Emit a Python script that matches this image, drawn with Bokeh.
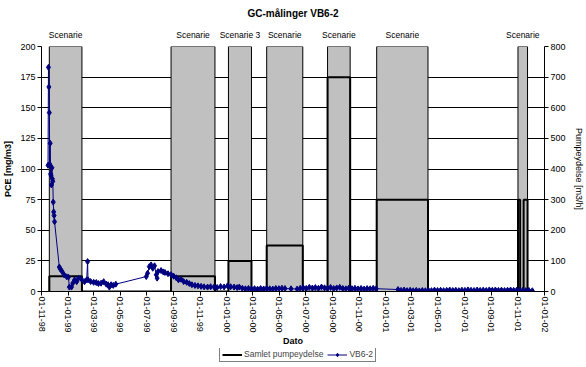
import pandas as pd
from bokeh.plotting import figure
from bokeh.layouts import column
from bokeh.models import (Range1d, LinearAxis, FixedTicker, DatetimeTickFormatter,
                          Legend, LegendItem, ColumnDataSource)
from bokeh.embed import file_html
from bokeh.resources import INLINE

# ---------------- data ----------------
chart_title = "GC-målinger VB6-2"
x_label = "Dato"
y_label = "PCE [mg/m3]"
y2_label = "Pumpeydelse [m3/h]"
legend_labels = ["Samlet pumpeydelse", "VB6-2"]
x_start, x_end = "1998-11-01", "2002-01-01"
tick_dates = ["1998-11-01", "1999-01-01", "1999-03-01", "1999-05-01", "1999-07-01",
              "1999-09-01", "1999-11-01", "2000-01-01", "2000-03-01", "2000-05-01",
              "2000-07-01", "2000-09-01", "2000-11-01", "2001-01-01", "2001-03-01",
              "2001-05-01", "2001-07-01", "2001-09-01", "2001-11-01", "2002-01-01"]
pce_ticks = [0, 25, 50, 75, 100, 125, 150, 175, 200]
pump_ticks = [0, 100, 200, 300, 400, 500, 600, 700, 800]

scen_start = ["1998-11-19", "1999-08-26", "2000-01-05", "2000-04-02",
              "2000-08-20", "2000-12-11", "2001-11-01"]
scen_end = ["1999-02-02", "1999-12-05", "2000-02-27", "2000-06-24",
            "2000-10-11", "2001-04-08", "2001-11-23"]
scen_labels = ["Scenarie", "Scenarie", "Scenarie 3", "Scenarie",
               "Scenarie", "Scenarie", "Scenarie"]

pump_start = ["1998-11-19", "1999-08-26", "2000-01-05", "2000-04-02",
              "2000-08-20", "2000-12-11", "2001-11-01", "2001-11-14"]
pump_end = ["1999-02-02", "1999-12-05", "2000-02-27", "2000-06-24",
            "2000-10-11", "2001-04-08", "2001-11-06", "2001-11-23"]
pump_level = [50, 50, 100, 150, 700, 300, 300, 300]

vb_dates = [
    "1998-11-16", "1998-11-17", "1998-11-18", "1998-11-19", "1998-11-20", "1998-11-21",
    "1998-11-22", "1998-11-23", "1998-11-24", "1998-11-25", "1998-11-26", "1998-11-27",
    "1998-11-28", "1998-11-29", "1998-11-30", "1998-12-01", "1998-12-12", "1998-12-14",
    "1998-12-18", "1998-12-23", "1998-12-29", "1999-01-02", "1999-01-04", "1999-01-09",
    "1999-01-12", "1999-01-16", "1999-01-21", "1999-01-25", "1999-02-01", "1999-02-08",
    "1999-02-13", "1999-02-15", "1999-02-16", "1999-02-22", "1999-03-01", "1999-03-07",
    "1999-03-12", "1999-03-18", "1999-03-24", "1999-03-30", "1999-04-03", "1999-04-06",
    "1999-04-10", "1999-04-15", "1999-04-21",
    "1999-06-30", "1999-07-03", "1999-07-07", "1999-07-11", "1999-07-15", "1999-07-19",
    "1999-07-23", "1999-07-25", "1999-07-27", "1999-08-03", "1999-08-08", "1999-08-12",
    "1999-08-19", "1999-08-26", "1999-09-01", "1999-09-07", "1999-09-12", "1999-09-18",
    "1999-09-24", "1999-10-01", "1999-10-07", "1999-10-13", "1999-10-20", "1999-10-27",
    "1999-11-03", "1999-11-10", "1999-11-18", "1999-11-25", "1999-12-03", "1999-12-10",
    "1999-12-18", "1999-12-26", "2000-01-03", "2000-01-10", "2000-01-18", "2000-01-25",
    "2000-01-30",
    "2000-02-06", "2000-02-13", "2000-02-20", "2000-02-27", "2000-03-05", "2000-03-12",
    "2000-03-19", "2000-03-26", "2000-04-02", "2000-04-09", "2000-04-16", "2000-04-23",
    "2000-04-30", "2000-05-07", "2000-05-14", "2000-05-28", "2000-06-11", "2000-06-18",
    "2000-06-25", "2000-07-02", "2000-07-09", "2000-07-16", "2000-07-23", "2000-07-30",
    "2000-08-06", "2000-08-13", "2000-08-20", "2000-08-27", "2000-09-03", "2000-09-10",
    "2000-09-17", "2000-09-24", "2000-10-01", "2000-10-08", "2000-10-15", "2000-10-22",
    "2000-10-29", "2000-11-05", "2000-11-12", "2000-11-19", "2000-11-26", "2000-12-03",
    "2000-12-10",
    "2001-01-29", "2001-02-05", "2001-02-12", "2001-02-19", "2001-02-26", "2001-03-05",
    "2001-03-12", "2001-03-19", "2001-03-26", "2001-04-02", "2001-04-09", "2001-04-16",
    "2001-04-23", "2001-04-30", "2001-05-07", "2001-05-14", "2001-05-21", "2001-05-28",
    "2001-06-04", "2001-06-11", "2001-06-18", "2001-06-25", "2001-07-02", "2001-07-09",
    "2001-07-16", "2001-07-23", "2001-07-30", "2001-08-06", "2001-08-13", "2001-08-20",
    "2001-08-27", "2001-09-03", "2001-09-10", "2001-09-17", "2001-09-24", "2001-10-01",
    "2001-10-08", "2001-10-15", "2001-10-22", "2001-10-29", "2001-11-05", "2001-11-12",
    "2001-11-19", "2001-11-26", "2001-12-04"]
vb_pce = [
    103, 183, 167, 146, 104, 121,
    96, 95, 87, 101, 92, 90,
    73, 65, 62, 57, 20, 18.5,
    16.5, 13.6, 12, 11.7, 3.6, 3.6,
    6.8, 9.5, 8, 10.9, 10.1, 8,
    9.5, 24.4, 9.5, 8.1, 7.5, 7.3,
    6.5, 6.8, 8, 6, 5.5, 3.6,
    5.5, 5, 6,
    12.2, 14.9, 20.3, 21.7, 19, 21,
    13.6, 10.9, 16.3, 17.1, 16, 15.5,
    14.5, 13.8, 12.5, 11.2, 9.5, 10,
    8.1, 7.5, 6.5, 5.5, 5, 4.6,
    4.2, 3.8, 3.6, 3.9, 3.6, 3.3,
    4, 3.7, 4.6, 3.9, 3.6, 3.2,
    3.6,
    2.6, 2.2, 2.5, 2.0, 2.3, 1.9,
    2.4, 2.1, 2.6, 2.2, 2.0, 2.5,
    2.3, 2.7, 2.4, 2.2, 2.0, 2.6,
    3.0, 2.5, 3.4, 2.8, 3.2, 2.6,
    3.6, 3.0, 2.7, 3.3, 2.4, 2.9,
    3.4, 2.5, 2.2, 2.8, 2.3, 2.6,
    2.1, 2.5, 2.0, 2.4, 2.2, 2.6,
    2.3,
    1.6, 0.9, 1.2, 0.7, 1.0, 0.6,
    0.9, 0.5, 0.8, 0.6, 0.9, 0.7,
    1.1, 0.8, 1.0, 0.7, 0.9, 1.2,
    0.8, 1.0, 0.7, 1.1, 0.9, 1.3,
    1.0, 0.8, 1.2, 0.9, 1.1, 0.8,
    1.3, 1.0, 1.2, 0.9, 1.1, 0.8,
    1.0, 1.2, 0.9, 1.1, 0.8, 1.0,
    0.7, 0.9, 0.6]

# ---------------- figure ----------------
FONT = "Liberation Sans"
NAVY = "#000080"
W, H_MAIN, H_LEG = 586, 348, 19
d = pd.to_datetime


def ms(t):
    return int(d(t).value // 10**6)


p = figure(width=W, height=H_MAIN, x_axis_type="datetime",
           x_range=Range1d(d(x_start), d(x_end)), y_range=Range1d(0, 200),
           output_backend="svg", toolbar_location=None,
           min_border_left=40, min_border_right=41, min_border_top=46, min_border_bottom=0)
p.extra_y_ranges = {"pump": Range1d(0, 800)}
p.outline_line_color = None
p.background_fill_color = "white"
p.border_fill_color = "white"

# title
p.title.text = chart_title
p.title.align = "center"
p.title.vertical_align = "top"
p.title.text_font = FONT
p.title.text_font_size = "10px"
p.title.text_font_style = "bold"
p.title.text_color = "black"
p.title.standoff = 12

# grid
p.xgrid.grid_line_color = None
p.ygrid.grid_line_color = "black"
p.ygrid.grid_line_width = 1


def style_axis(ax):
    ax.axis_line_color = "black"
    ax.major_tick_line_color = "black"
    ax.minor_tick_line_color = None
    ax.major_tick_in = 0
    ax.major_tick_out = 4
    ax.major_label_text_font = FONT
    ax.major_label_text_font_size = "9px"
    ax.major_label_text_color = "black"
    ax.major_label_standoff = 2
    ax.axis_label_text_font = FONT
    ax.axis_label_text_font_size = "9px"
    ax.axis_label_text_font_style = "bold"
    ax.axis_label_text_color = "black"
    ax.axis_label_standoff = 4


style_axis(p.xaxis[0])
style_axis(p.yaxis[0])

p.yaxis[0].ticker = FixedTicker(ticks=pce_ticks)
p.yaxis[0].axis_label = y_label

p.xaxis[0].ticker = FixedTicker(ticks=[ms(t) for t in tick_dates])
fmt = "%d-%m-%y"
p.xaxis[0].formatter = DatetimeTickFormatter(
    milliseconds=fmt, seconds=fmt, minsec=fmt, minutes=fmt, hourmin=fmt, hours=fmt,
    days=fmt, months=fmt, years=fmt)
p.xaxis[0].major_label_orientation = "vertical"
p.xaxis[0].major_label_standoff = 1
p.xaxis[0].axis_label = x_label
p.xaxis[0].axis_label_standoff = 0

ax2 = LinearAxis(y_range_name="pump", ticker=FixedTicker(ticks=pump_ticks),
                 axis_label=y2_label)
style_axis(ax2)
ax2.axis_label_text_font_style = "normal"
ax2.axis_label_standoff = 5
p.add_layout(ax2, "right")

# scenario names as an axis above the plot, at the middle of each scenario
mids = [(ms(s) + ms(e)) // 2 for s, e in zip(scen_start, scen_end)]
ax_top = LinearAxis(ticker=FixedTicker(ticks=mids),
                    major_label_overrides={m: t for m, t in zip(mids, scen_labels)})
ax_top.axis_line_color = None
ax_top.major_tick_line_color = None
ax_top.minor_tick_line_color = None
ax_top.major_tick_in = 0
ax_top.major_tick_out = 0
ax_top.major_label_standoff = 7
ax_top.major_label_text_font = FONT
ax_top.major_label_text_font_size = "8.5px"
ax_top.major_label_text_color = "black"
p.add_layout(ax_top, "above")

# scenario bars (full height, secondary axis)
bars = ColumnDataSource(dict(left=[d(s) for s in scen_start], right=[d(e) for e in scen_end],
                             bottom=[0] * len(scen_start), top=[800] * len(scen_start)))
p.quad(left="left", right="right", bottom="bottom", top="top", source=bars,
       y_range_name="pump", fill_color="#C0C0C0", line_color="black", line_width=1)

# pump step line
px, py = [], []
for s, e, lv in zip(pump_start, pump_end, pump_level):
    px += [d(s), d(s), d(e), d(e)]
    py += [0, lv, lv, 0]
p.line(px, py, y_range_name="pump", line_color="black", line_width=2)

# VB6-2 series
vb = ColumnDataSource(dict(x=[d(t) for t in vb_dates], y=vb_pce))
p.line("x", "y", source=vb, line_color=NAVY, line_width=1)
p.scatter("x", "y", source=vb, marker="diamond", size=6,
          fill_color=NAVY, line_color=NAVY)

# ---------------- legend strip below ----------------
lg = figure(width=W, height=H_LEG, x_range=Range1d(0, 1), y_range=Range1d(0, 1),
            x_axis_type=None, y_axis_type=None, output_backend="svg", toolbar_location=None,
            min_border_left=0, min_border_right=0, min_border_top=0, min_border_bottom=0)
lg.outline_line_color = None
lg.xgrid.visible = False
lg.ygrid.visible = False
lg.background_fill_color = "white"
lg.border_fill_color = "white"
nan = float("nan")
r_pump = lg.line([nan], [nan], line_color="black", line_width=2)
r_vbl = lg.line([nan], [nan], line_color=NAVY, line_width=1)
r_vbp = lg.scatter([nan], [nan], marker="diamond", size=6, fill_color=NAVY, line_color=NAVY)
legend = Legend(items=[LegendItem(label=legend_labels[0], renderers=[r_pump]),
                       LegendItem(label=legend_labels[1], renderers=[r_vbl, r_vbp])],
                orientation="horizontal", location=(178, 5),
                border_line_color="black", border_line_width=1,
                background_fill_color="white", background_fill_alpha=1,
                label_text_font=FONT, label_text_font_size="8.5px",
                glyph_width=20, glyph_height=9, label_height=9,
                padding=2, spacing=4, margin=0, label_standoff=2)
lg.add_layout(legend)

open("out.html", "w").write(file_html(column(p, lg, spacing=0), INLINE))
